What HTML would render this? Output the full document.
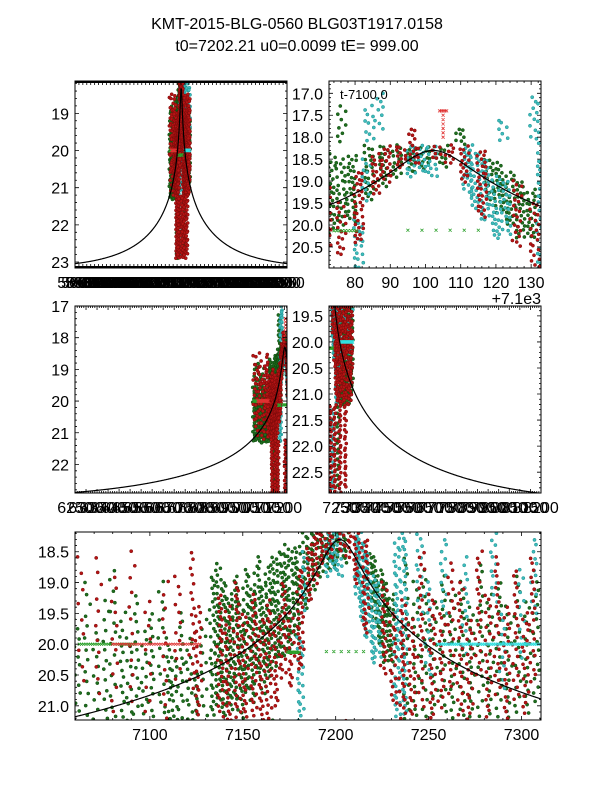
<!DOCTYPE html>
<html><head><meta charset="utf-8"><style>
html,body{margin:0;padding:0;background:#fff;}
svg{display:block;font-family:"Liberation Sans","DejaVu Sans",sans-serif;}
</style></head><body>
<svg id="chart" width="600" height="800" viewBox="0 0 600 800" xmlns="http://www.w3.org/2000/svg">
<rect width="600" height="800" fill="#fff"/>
<text x="297" y="29" font-size="16" text-anchor="middle">KMT-2015-BLG-0560 BLG03T1917.0158</text>
<text x="297" y="51" font-size="16" text-anchor="middle">t0=7202.21 u0=0.0099 tE= 999.00</text>
</svg>
<script>
// ---- model parameters ----
const modelT0 = 7202.21, modelU0 = 0.0099, modelTE = 999.0;
const baseMag = 23.2, blendFrac = 0.9;
// ---- data: strips of observations [time, magTop, magBottom, magStep] ----
const greenStrips = [
[7061,19.6,21.3,0.15],[7066,19.0,21.2,0.18],[7071,19.8,21.3,0.14],[7076,19.3,21.3,0.16],[7080,18.8,21.2,0.17],[7085,19.5,21.2,0.13],[7089,19.9,21.3,0.12],[7093,19.2,21.3,0.15],[7097,19.8,21.2,0.12],[7101,19.5,21.3,0.12],[7106,19.0,21.2,0.15],[7110,19.9,21.3,0.1],[7113,20.2,21.3,0.08],[7117,19.5,21.2,0.12],[7121,19.9,21.3,0.1],[7125,20.5,21.3,0.08],[7129,19.6,21.2,0.14],
[7134,18.9,21.2,0.07],[7137,18.7,21.0,0.06],[7140,19.0,21.2,0.07],[7143,19.2,21.1,0.06],[7146,18.9,20.9,0.06],[7149,19.3,21.2,0.07],[7152,18.8,20.8,0.06],[7155,19.1,21.0,0.06],[7158,18.6,20.5,0.06],[7161,19.0,20.8,0.06],[7164,18.7,20.6,0.06],[7167,18.6,20.4,0.06],[7170,18.5,20.2,0.06],[7173,18.4,20.2,0.06],[7176,18.5,20.1,0.06],[7179,18.4,19.9,0.05],
[7184,18.2,19.4,0.05],[7188,18.2,19.1,0.05],[7192,18.2,18.9,0.05],[7196,18.2,18.8,0.05],[7200,18.2,18.7,0.05],[7205,18.2,18.7,0.06],
[7218,18.5,19.4,0.05],[7221,18.6,19.7,0.05],[7224,18.8,20.0,0.05],[7227,19.0,20.3,0.05],[7230,19.2,20.3,0.05],
[7238,18.6,21.2,0.13],[7243,19.0,21.2,0.12],[7248,18.8,21.2,0.14],[7253,19.3,21.2,0.12],[7258,18.9,21.2,0.13],[7263,19.2,21.2,0.11],[7268,19.0,21.2,0.12],[7273,19.4,21.2,0.11],[7278,18.7,21.2,0.13],[7283,19.2,21.2,0.12],[7288,19.0,21.2,0.12],[7293,19.4,21.2,0.12],[7298,18.9,21.2,0.13],[7303,19.3,21.2,0.12],[7308,19.0,21.0,0.12],
[7150,21.25,22.9,0.09],[7165,21.25,22.8,0.1],[7240,21.25,22.8,0.1],[7210,17.8,18.15,0.05],[7176,17.3,18.15,0.1]
];
const redStrips = [
[7063,18.6,20.8,0.25],[7072,18.6,21.0,0.22],[7081,18.9,21.2,0.2],[7090,18.5,21.1,0.22],[7099,19.3,21.2,0.2],[7108,19.0,21.2,0.2],[7115,18.9,20.6,0.15],[7123,18.5,20.8,0.13],[7126,19.4,21.2,0.08],
[7138,19.2,21.2,0.07],[7142,19.4,21.3,0.07],[7147,19.0,21.2,0.07],[7151,19.5,21.3,0.07],[7156,19.2,21.2,0.07],[7160,19.6,21.3,0.07],[7164,19.3,21.2,0.07],[7168,19.6,21.0,0.07],[7172,19.0,20.6,0.07],[7176,19.5,20.7,0.07],
[7181,18.8,20.4,0.05],[7186,18.4,19.3,0.05],[7189,18.2,19.0,0.05],[7193,18.2,18.7,0.04],[7197,18.2,18.6,0.04],[7203,18.2,18.5,0.05],[7207,18.2,18.6,0.05],[7211,18.2,19.0,0.05],[7216,18.3,19.8,0.05],
[7226,19.0,20.5,0.07],[7231,19.5,21.0,0.07],[7236,19.3,21.2,0.07],[7241,19.6,21.2,0.07],[7246,18.5,21.0,0.1],[7252,19.2,21.2,0.08],[7257,19.5,21.1,0.09],[7262,18.7,20.8,0.1],[7267,19.0,21.2,0.09],[7272,19.6,21.2,0.08],[7277,18.5,20.5,0.1],[7282,19.2,21.2,0.09],[7287,18.6,20.8,0.1],[7292,19.4,21.2,0.09],[7297,18.8,20.9,0.1],[7302,19.5,21.2,0.09],[7306,18.6,20.6,0.1],
[7145,21.25,22.9,0.06],[7160,21.25,22.9,0.06],[7170,21.25,22.9,0.06],[7205,21.25,22.9,0.07],[7225,21.25,22.9,0.06],[7250,21.25,22.9,0.06],[7275,21.25,22.8,0.07],[7196,17.8,18.15,0.06]
];
const cyanStrips = [
[7181,19.9,21.3,0.06],[7183,18.5,19.5,0.08],[7196,18.2,18.9,0.05],[7199,18.2,18.8,0.05],[7202,18.2,18.9,0.05],[7212,18.2,19.3,0.05],[7214,18.3,19.6,0.05],[7217,18.5,19.9,0.05],[7220,18.9,20.3,0.05],[7223,19.0,20.2,0.06],[7233,18.3,21.2,0.06],[7237,18.2,21.2,0.07],[7245,18.2,19.6,0.1],[7250,19.0,20.5,0.1],[7258,18.3,19.5,0.1],[7270,18.6,20.2,0.12],[7285,18.2,19.3,0.1],[7290,19.5,20.8,0.12],[7300,18.8,20.3,0.12],[7307,18.3,19.5,0.1],
[7184,17.3,18.15,0.08],[7187,17.0,17.8,0.1],[7222,17.6,18.15,0.08],[7231,17.1,18.15,0.08],[7215,21.3,22.8,0.1]
];
// ---- cross-marker rows [tStart, tEnd, mag, stepDays] ----
const greenCrossRows = [[7062,7092,20.0,1.2],[7174,7181,20.13,0.8],[7195,7215,20.12,4]];
const redCrossRows = [[7080,7128,20.0,1.3],[7204,7206,17.4,0.5]];
const cyanCrossRows = [[7255,7310,20.0,1.0]];
const redCrossCol = [[7205,17.4,18.0,0.1]];

// ---- panels ----
const panels = [
 {name:'panel-full', x0:75,x1:287,y0:81,y1:268,t0:5850,t1:8550,m0:18.13,m1:23.16,
  yt:[19,20,21,22,23], yfmt:v=>String(v), ytMinor:0.2, xt:range(5850,8550,50), xfmt:v=>String(v), xtMinor:10},
 {name:'panel-peak-zoom', x0:329,x1:541,y0:81,y1:268,t0:7172.6,t1:7232.8,m0:16.72,m1:20.98,
  yt:[17,17.5,18,18.5,19,19.5,20,20.5], yfmt:v=>v.toFixed(1), ytMinor:0.1, xt:[7180,7190,7200,7210,7220,7230], xfmt:v=>String(v-7100), xtMinor:2},
 {name:'panel-rise', x0:75,x1:287,y0:306,y1:493,t0:6250,t1:7212,m0:17,m1:22.9,
  yt:[17,18,19,20,21,22], yfmt:v=>String(v), ytMinor:0.2, xt:range(6250,7200,50), xfmt:v=>String(v), xtMinor:10},
 {name:'panel-decline', x0:329,x1:541,y0:306,y1:493,t0:7198,t1:8200,m0:19.31,m1:22.9,
  yt:[19.5,20,20.5,21,21.5,22,22.5], yfmt:v=>v.toFixed(1), ytMinor:0.1, xt:range(7250,8200,50), xfmt:v=>String(v), xtMinor:10},
 {name:'panel-main', x0:75,x1:541,y0:532,y1:720,t0:7059.7,t1:7310.5,m0:18.18,m1:21.23,
  yt:[18.5,19,19.5,20,20.5,21], yfmt:v=>v.toFixed(1), ytMinor:0.1, xt:[7100,7150,7200,7250,7300], xfmt:v=>String(v), xtMinor:10}
];
function range(a,b,s){const r=[];for(let v=a;v<=b+1e-9;v+=s)r.push(v);return r;}
const NS='http://www.w3.org/2000/svg';
const svg=document.getElementById('chart');
function mk(tag,attrs,parent){const e=document.createElementNS(NS,tag);for(const k in attrs)e.setAttribute(k,attrs[k]);(parent||svg).appendChild(e);return e;}
function modelMag(t){const u=Math.sqrt(modelU0*modelU0+Math.pow((t-modelT0)/modelTE,2));const A=(u*u+2)/(u*Math.sqrt(u*u+4));return baseMag-2.5*Math.log10(1+blendFrac*(A-1));}

panels.forEach((p,pi)=>{
  const X=t=>p.x0+(t-p.t0)/(p.t1-p.t0)*(p.x1-p.x0);
  const Y=m=>p.y0+(m-p.m0)/(p.m1-p.m0)*(p.y1-p.y0);
  const g=mk('g',{});
  
  
  const cp=mk('clipPath',{id:'clip'+pi},g);
  mk('rect',{x:p.x0,y:p.y0,width:p.x1-p.x0,height:p.y1-p.y0},cp);
  const pts=mk('g',{'clip-path':'url(#clip'+pi+')'},g);
  
  
  const pxPerDay=(p.x1-p.x0)/(p.t1-p.t0);
  function drawStrips(strips,fill,stroke,nm){
    const sg=mk('g',{fill:fill,stroke:stroke,'stroke-width':0.5},pts);
    
    
    strips.forEach((s,si)=>{
      let k=0;
      for(let m=s[1];m<=s[2]+1e-9;m+=s[3]){
        const jit=(((k*37+si*13)%11)-5)*0.3;
        const cx=X(s[0])+Math.max(-4,Math.min(4,jit*pxPerDay))+(((k*5+si)%3)-1)*0.7;
        const cy=Y(m)+(((k*17+si*7)%5)-2)*0.5;
        mk('circle',{cx:cx.toFixed(1),cy:cy.toFixed(1),r:1.6},sg);
        k++;
      }
    });
  }
  function drawCross(rows,cols,color,nm){
    const cg=mk('g',{stroke:color,'stroke-width':0.8,fill:'none'},pts);
    
    
    let d='';
    rows.forEach(r=>{for(let t=r[0];t<=r[1]+1e-9;t+=r[3]){const x=X(t),y=Y(r[2]);d+=`M${x-1.5},${y-1.5}L${x+1.5},${y+1.5}M${x-1.5},${y+1.5}L${x+1.5},${y-1.5}`;}});
    cols.forEach(c=>{for(let m=c[1];m<=c[2]+1e-9;m+=c[3]){const x=X(c[0]),y=Y(m);d+=`M${x-1.5},${y-1.5}L${x+1.5},${y+1.5}M${x-1.5},${y+1.5}L${x+1.5},${y-1.5}`;}});
    mk('path',{d:d},cg);
  }
  drawStrips(greenStrips,'#1f6e1f','#0d4a0d','green-series');
  drawStrips(cyanStrips,'#3fbcbc','#1a8f8f','cyan-series');
  drawStrips(redStrips,'#b51414','#7a0a0a','red-series');
  drawCross(greenCrossRows,[],'#2aa02a','green-cross-series');
  drawCross(redCrossRows,redCrossCol,'#e03030','red-cross-series');
  drawCross(cyanCrossRows,[],'#30e0e0','cyan-cross-series');
  let d='';const n=500;
  for(let i=0;i<=n;i++){const t=p.t0+(p.t1-p.t0)*i/n;d+=(i?'L':'M')+X(t).toFixed(2)+','+Y(modelMag(t)).toFixed(2);}
  const cv=mk('path',{d:d,fill:'none',stroke:'#000','stroke-width':1.2},pts);
  
  
  const fr=mk('rect',{x:p.x0,y:p.y0,width:p.x1-p.x0,height:p.y1-p.y0,fill:'none',stroke:'#000','stroke-width':1},g);
  
  
  let td='';
  for(let m=Math.ceil(p.m0/p.ytMinor)*p.ytMinor;m<=p.m1;m+=p.ytMinor){const y=Y(m);td+=`M${p.x0},${y}h2M${p.x1},${y}h-2`;}
  p.yt.forEach(m=>{const y=Y(m);td+=`M${p.x0},${y}h4M${p.x1},${y}h-4`;});
  for(let t=Math.ceil(p.t0/p.xtMinor)*p.xtMinor;t<=p.t1;t+=p.xtMinor){const x=X(t);td+=`M${x},${p.y0}v2M${x},${p.y1}v-2`;}
  p.xt.forEach(t=>{const x=X(t);td+=`M${x},${p.y0}v4M${x},${p.y1}v-4`;});
  mk('path',{d:td,stroke:'#000','stroke-width':0.8,fill:'none'},g);
  const yl=mk('g',{'font-size':16,'text-anchor':'end'},g);
  
  
  p.yt.forEach(m=>{const tx=mk('text',{x:p.x0-6,y:Y(m)+6},yl);tx.textContent=p.yfmt(m);});
  const xl=mk('g',{'font-size':16,'text-anchor':'middle'},g);
  
  
  p.xt.forEach(t=>{const tx=mk('text',{x:X(t),y:p.y1+20},xl);tx.textContent=p.xfmt(t);});
});
const lab=mk('text',{x:340,y:99,'font-size':13});
lab.textContent='t-7100.0';


const off=mk('text',{x:541,y:304,'font-size':16,'text-anchor':'end'});
off.textContent='+7.1e3';


</script>
</body></html>
